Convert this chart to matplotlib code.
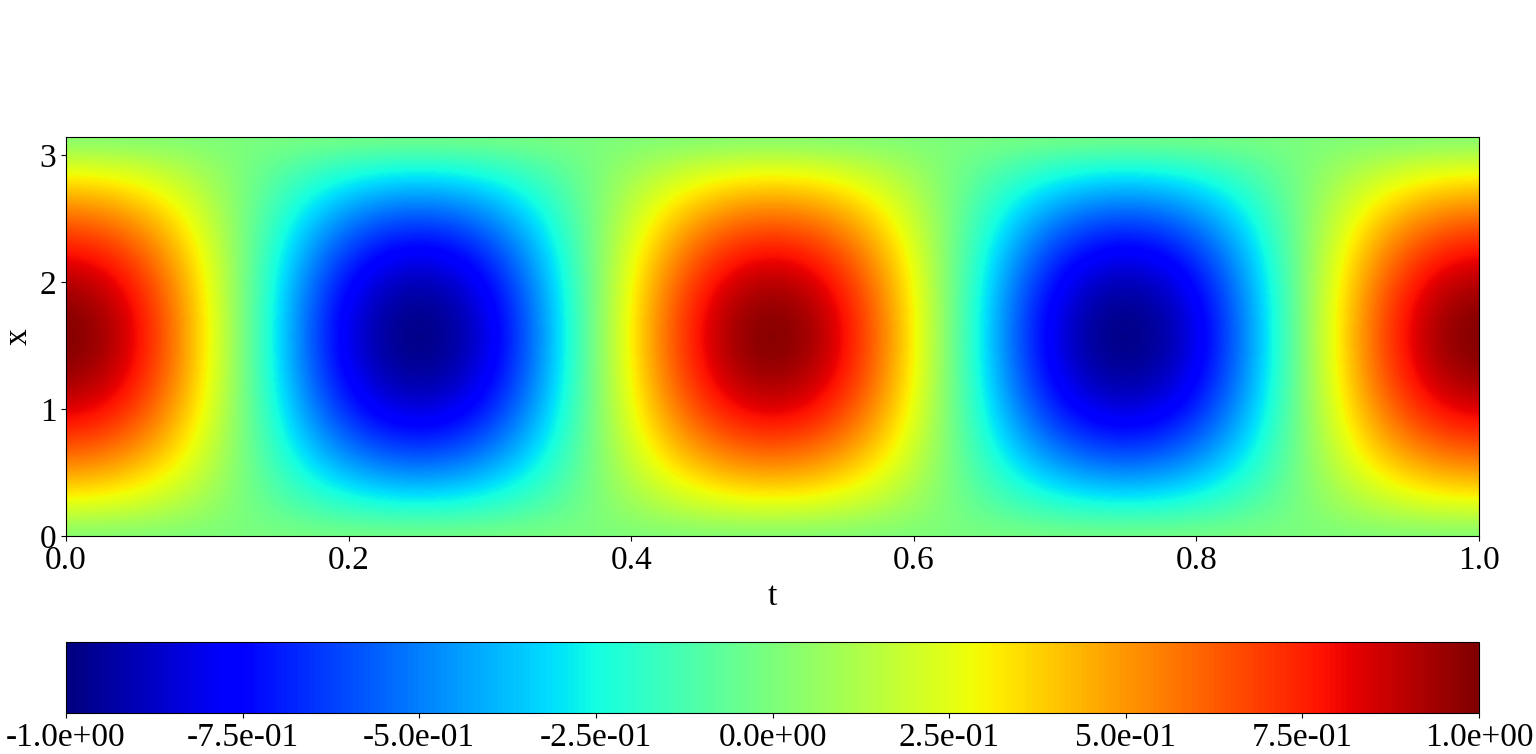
import numpy as np
import matplotlib as mpl
mpl.use('Agg')
import matplotlib.pyplot as plt

plt.rcParams['font.family'] = ['Liberation Serif', 'DejaVu Serif']
plt.rcParams['font.size'] = 24

# ==== data ====
# time profile (value along t at x = pi/2), t = 0, 0.025, ..., 1
t_vals = [0.0, 0.025, 0.05, 0.075, 0.1, 0.125, 0.15, 0.175, 0.2, 0.225, 0.25,
          0.275, 0.3, 0.325, 0.35, 0.375, 0.4, 0.425, 0.45, 0.475, 0.5,
          0.525, 0.55, 0.575, 0.6, 0.625, 0.65, 0.675, 0.7, 0.725, 0.75,
          0.775, 0.8, 0.825, 0.85, 0.875, 0.9, 0.925, 0.95, 0.975, 1.0]
t_profile = [1.0, 0.95, 0.81, 0.59, 0.31, 0.0, -0.31, -0.59, -0.81, -0.95, -1.0,
             -0.95, -0.81, -0.59, -0.31, 0.0, 0.31, 0.59, 0.81, 0.95, 1.0,
             0.95, 0.81, 0.59, 0.31, 0.0, -0.31, -0.59, -0.81, -0.95, -1.0,
             -0.95, -0.81, -0.59, -0.31, 0.0, 0.31, 0.59, 0.81, 0.95, 1.0]
# space profile (amplitude along x), x = 0 .. pi in 16 steps
x_vals = [0.0, 0.196, 0.393, 0.589, 0.785, 0.982, 1.178, 1.374, 1.571,
          1.767, 1.963, 2.160, 2.356, 2.553, 2.749, 2.945, 3.1416]
x_profile = [0.0, 0.195, 0.383, 0.556, 0.707, 0.831, 0.924, 0.981, 1.0,
             0.981, 0.924, 0.831, 0.707, 0.556, 0.383, 0.195, 0.0]

cbar_ticks = [-1.0, -0.75, -0.5, -0.25, 0.0, 0.25, 0.5, 0.75, 1.0]

u = np.outer(x_profile, t_profile)

fig = plt.figure(figsize=(15.36, 7.54), dpi=100)
ax = fig.add_axes([66/1536, 218/754, 1413/1536, 399/754])
cax = fig.add_axes([66/1536, 41/754, 1413/1536, 71/754])

# half-cell padding so the sample points sit on their t / x values
dt = (t_vals[1] - t_vals[0]) / 2
dx = (x_vals[1] - x_vals[0]) / 2
img = ax.imshow(u, origin='lower', aspect='auto', cmap='jet',
                extent=[t_vals[0] - dt, t_vals[-1] + dt, x_vals[0] - dx, x_vals[-1] + dx],
                interpolation='bicubic', vmin=-1, vmax=1)
ax.set_xlim(0, 1)
ax.set_ylim(0, np.pi)
ax.set_xticks([0.0, 0.2, 0.4, 0.6, 0.8, 1.0])
ax.set_yticks([0, 1, 2, 3])
ax.set_xlabel('t')
ax.set_ylabel('x')

cb = fig.colorbar(img, cax=cax, orientation='horizontal', ticks=cbar_ticks, format='%.1e')

fig.savefig('out.png', dpi=100)
